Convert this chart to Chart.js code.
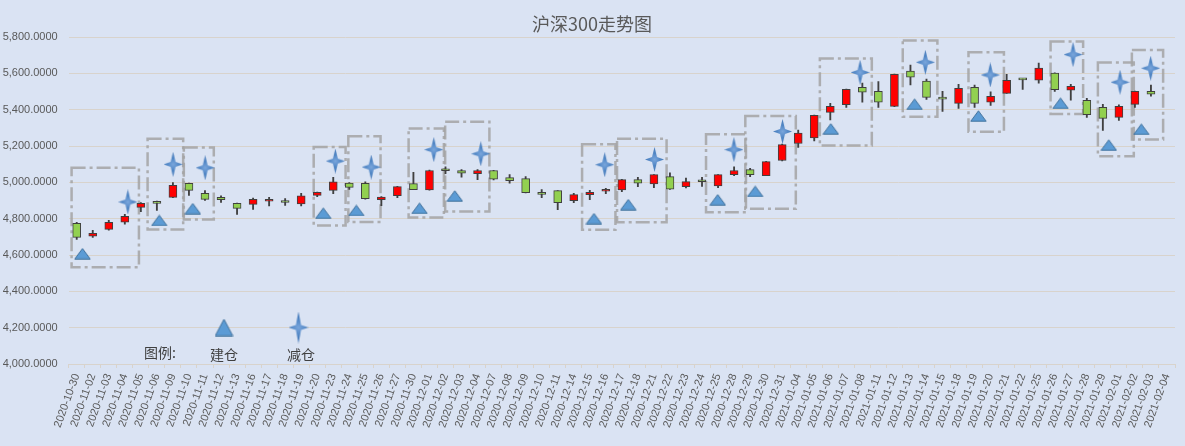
<!DOCTYPE html>
<html><head><meta charset="utf-8">
<script src="https://cdn.jsdelivr.net/npm/chart.js@4.4.1/dist/chart.umd.min.js"></script>
<style>html,body{margin:0;padding:0;background:#dae3f3;}#wrap{width:1185px;height:446px;position:relative;}</style>
</head><body><div id="wrap"><canvas id="c"></canvas></div>
<script>
const dates = ["2020-10-30","2020-11-02","2020-11-03","2020-11-04","2020-11-05","2020-11-06","2020-11-09","2020-11-10","2020-11-11","2020-11-12","2020-11-13","2020-11-16","2020-11-17","2020-11-18","2020-11-19","2020-11-20","2020-11-23","2020-11-24","2020-11-25","2020-11-26","2020-11-27","2020-11-30","2020-12-01","2020-12-02","2020-12-03","2020-12-04","2020-12-07","2020-12-08","2020-12-09","2020-12-10","2020-12-11","2020-12-14","2020-12-15","2020-12-16","2020-12-17","2020-12-18","2020-12-21","2020-12-22","2020-12-23","2020-12-24","2020-12-25","2020-12-28","2020-12-29","2020-12-30","2020-12-31","2021-01-04","2021-01-05","2021-01-06","2021-01-07","2021-01-08","2021-01-11","2021-01-12","2021-01-13","2021-01-14","2021-01-15","2021-01-18","2021-01-19","2021-01-20","2021-01-21","2021-01-22","2021-01-25","2021-01-26","2021-01-27","2021-01-28","2021-01-29","2021-02-01","2021-02-02","2021-02-03","2021-02-04"];
const opens  = [4774,4703,4741,4781,4862,4895,4917,4994,4939,4917,4884,4879,4896,4891,4881,4928,4956,4996,4994,4904,4927,4993,4958,5066,5065,5048,5065,5026,5020,4936,4954,4899,4932,4951,4958,5015,4991,5031,4976,5005,4980,5042,5070,5037,5120,5214,5245,5385,5427,5523,5501,5418,5612,5557,5468,5435,5523,5441,5490,5567,5562,5601,5507,5452,5413,5358,5429,5501,null];
const highs  = [4780,4736,4791,4824,4888,4897,4998,4996,4954,4926,4886,4913,4917,4910,4939,4947,5027,4998,5003,4921,4978,5055,5068,5085,5070,5070,5066,5042,5031,4960,4955,4939,4956,4967,5017,5028,5043,5053,5024,5028,5043,5085,5077,5115,5211,5287,5370,5435,5513,5546,5554,5596,5645,5568,5501,5540,5535,5498,5595,5570,5656,5603,5540,5463,5430,5426,5502,5535,null];
const lows   = [4686,4697,4736,4770,4838,4846,4915,4928,4901,4890,4824,4851,4870,4873,4870,4921,4937,4961,4908,4871,4915,4959,4957,5048,5029,5015,5013,4996,4942,4915,4849,4888,4904,4937,4949,4976,4971,4961,4969,4978,4971,5037,5031,5036,5118,5192,5228,5343,5413,5441,5413,5417,5536,5457,5391,5407,5413,5424,5489,5512,5546,5501,5452,5358,5286,5341,5413,5474,null];
const closes = [4697,4719,4780,4813,4884,4884,4983,4956,4906,4904,4857,4906,4898,4889,4926,4945,5003,4972,4910,4919,4976,4960,5065,5064,5051,5065,5018,5009,4943,4934,4888,4932,4945,4953,5015,4996,5042,4963,5004,5003,5042,5065,5042,5114,5208,5271,5369,5418,5512,5496,5441,5595,5579,5468,5458,5518,5435,5474,5562,5564,5629,5510,5529,5372,5352,5418,5501,5485,null];
const yTickValues = [4000,4200,4400,4600,4800,5000,5200,5400,5600,5800];
// 建仓 markers (category position, index value)
const buildPos = [0.36,5.15,7.24,15.38,17.44,21.38,23.58,32.26,34.4,39.98,42.32,47.03,52.26,56.24,61.36,64.37,66.4];
const buildVal = [4607,4790,4855,4830,4845,4857,4925,4800,4877,4904,4950,5294,5430,5365,5435,5205,5292];
// 减仓 markers
const cutPos = [3.19,6.01,8.01,16.13,18.37,22.27,25.2,32.93,36.04,40.99,44.02,48.86,52.93,56.98,62.14,65.07,66.98];
const cutVal = [4892,5099,5080,5117,5084,5180,5157,5097,5126,5180,5280,5605,5661,5591,5703,5551,5628];
// dashed group boxes (category range, value range)
const boxFrom = [-0.32,4.42,6.68,14.78,16.94,20.7,22.98,31.52,33.7,39.25,41.7,46.35,51.52,55.62,60.74,63.69,65.81];
const boxTo   = [3.88,6.64,8.55,16.77,18.95,22.9,25.74,33.6,36.79,41.74,44.85,49.59,53.68,57.83,62.77,65.93,67.76];
const boxLow  = [4533,4741,4795,4763,4781,4806,4840,4739,4780,4835,4855,5203,5361,5278,5376,5144,5236];
const boxHigh = [5080,5240,5192,5195,5253,5297,5333,5209,5240,5264,5365,5681,5781,5716,5775,5659,5729];

const BG = '#dae3f3', GRID = '#d8d3cc';
function triCanvas(w, h) {
  const c = document.createElement('canvas'); c.width = w; c.height = h;
  const g = c.getContext('2d');
  g.beginPath(); g.moveTo(w/2, 0.8); g.lineTo(w-0.8, h-0.8); g.lineTo(0.8, h-0.8); g.closePath();
  g.fillStyle = '#5b9bd5'; g.fill(); g.lineWidth = 1; g.strokeStyle = '#41719c'; g.stroke();
  return c;
}
function starCanvas(w, h) {
  const c = document.createElement('canvas'); c.width = w; c.height = h;
  const g = c.getContext('2d');
  const cx = w/2, cy = h/2, r = Math.min(w, h) * 0.13;
  g.beginPath();
  g.moveTo(cx, 0); g.lineTo(cx + r, cy - r); g.lineTo(w, cy); g.lineTo(cx + r, cy + r);
  g.lineTo(cx, h); g.lineTo(cx - r, cy + r); g.lineTo(0, cy); g.lineTo(cx - r, cy - r); g.closePath();
  const gr = g.createRadialGradient(cx, cy, 0, cx, cy, Math.max(w, h) / 2);
  gr.addColorStop(0, '#7aa6dc'); gr.addColorStop(0.5, '#4f85c4'); gr.addColorStop(1, '#3e72b2');
  g.fillStyle = gr; g.fill();
  return c;
}
const triImg = triCanvas(17, 12), starImg = starCanvas(19, 25);
const triLegend = triCanvas(19, 18), starLegend = starCanvas(20, 32);

const bodyData = dates.map((d, i) => opens[i] == null ? null : [opens[i], closes[i]]);
const wickData = dates.map((d, i) => lows[i] == null ? null : [lows[i], highs[i]]);
const bodyColors = dates.map((d, i) => closes[i] >= opens[i] ? '#ff0000' : '#92d050');

const bgPlugin = {
  id: 'bg',
  beforeDraw(chart) {
    const ctx = chart.ctx; ctx.save(); ctx.fillStyle = BG; ctx.fillRect(0, 0, chart.width, chart.height); ctx.restore();
  },
  beforeDatasetsDraw(chart) {
    const ctx = chart.ctx, xs = chart.scales.x2, ys = chart.scales.y;
    ctx.save();
    ctx.strokeStyle = 'rgba(163,163,163,0.85)'; ctx.lineWidth = 2.5; ctx.setLineDash([14, 4, 3, 4]);
    for (let i = 0; i < boxFrom.length; i++) {
      const x0 = xs.getPixelForValue(boxFrom[i]), x1 = xs.getPixelForValue(boxTo[i]);
      const y0 = ys.getPixelForValue(boxHigh[i]), y1 = ys.getPixelForValue(boxLow[i]);
      ctx.strokeRect(x0, y0, x1 - x0, y1 - y0);
    }
    ctx.restore();
  },
  afterDraw(chart) {
    const ctx = chart.ctx; ctx.save();
    ctx.fillStyle = '#595959'; ctx.font = '18px "Noto Sans CJK SC", sans-serif';
    ctx.textAlign = 'center'; ctx.textBaseline = 'middle';
    ctx.fillText('沪深300走势图', 592, 24);
    ctx.fillStyle = '#404040'; ctx.font = '14px "Noto Sans CJK SC", sans-serif';
    ctx.fillText('图例:', 160, 353);
    ctx.fillText('建仓', 224, 355);
    ctx.fillText('减仓', 301, 355);
    ctx.drawImage(triLegend, 224 - triLegend.width/2, 327.5 - triLegend.height/2);
    ctx.drawImage(starLegend, 298.5 - starLegend.width/2, 327.5 - starLegend.height/2);
    ctx.restore();
  }
};

new Chart(document.getElementById('c'), {
  type: 'bar',
  data: {
    labels: dates,
    datasets: [
      { label: 'body', data: bodyData, backgroundColor: bodyColors, borderColor: '#404040', borderWidth: 1,
        borderSkipped: false, barThickness: 8, minBarLength: 2, grouped: false, order: 2, xAxisID: 'x', yAxisID: 'y' },
      { label: 'wick', data: wickData, backgroundColor: '#404040', borderWidth: 0,
        barThickness: 1.2, grouped: false, order: 3, xAxisID: 'x', yAxisID: 'y' },
      { type: 'scatter', label: '建仓', data: buildPos.map((p, i) => ({ x: p, y: buildVal[i] })),
        pointStyle: triImg, pointRadius: 8, xAxisID: 'x2', yAxisID: 'y', order: 1 },
      { type: 'scatter', label: '减仓', data: cutPos.map((p, i) => ({ x: p, y: cutVal[i] })),
        pointStyle: starImg, pointRadius: 9, xAxisID: 'x2', yAxisID: 'y', order: 0 }
    ]
  },
  options: {
    responsive: true, maintainAspectRatio: false, animation: false,
    layout: { padding: { left: 0, right: 9, top: 37, bottom: 0 } },
    plugins: { legend: { display: false }, tooltip: { enabled: false }, title: { display: false } },
    scales: {
      x: {
        type: 'category', offset: true,
        grid: { display: true, drawOnChartArea: false, drawTicks: true, tickLength: 4, color: GRID, offset: true },
        border: { display: true, color: GRID, width: 1 },
        ticks: { autoSkip: false, maxRotation: 70, minRotation: 70, color: '#595959', padding: 4,
                 font: { family: '"Liberation Sans", Arial, sans-serif', size: 11 } },
        afterFit(s) { s.height = 82; }
      },
      x2: { type: 'linear', display: false, offset: false, bounds: 'data', grace: 0,
            min: -0.5, max: dates.length - 0.5 },
      y: {
        min: 4000, max: 5800,
        afterBuildTicks(s) { s.ticks = yTickValues.map(v => ({ value: v })); },
        grid: { color: GRID, drawTicks: false, lineWidth: 1 },
        border: { display: false },
        ticks: { color: '#595959', padding: 11, font: { family: '"Liberation Sans", Arial, sans-serif', size: 11 },
                 callback: v => Number(v).toLocaleString('en-US', { minimumFractionDigits: 4, maximumFractionDigits: 4 }) },
        afterFit(s) { s.width = 68.7; }
      }
    }
  },
  plugins: [bgPlugin]
});
</script></body></html>
